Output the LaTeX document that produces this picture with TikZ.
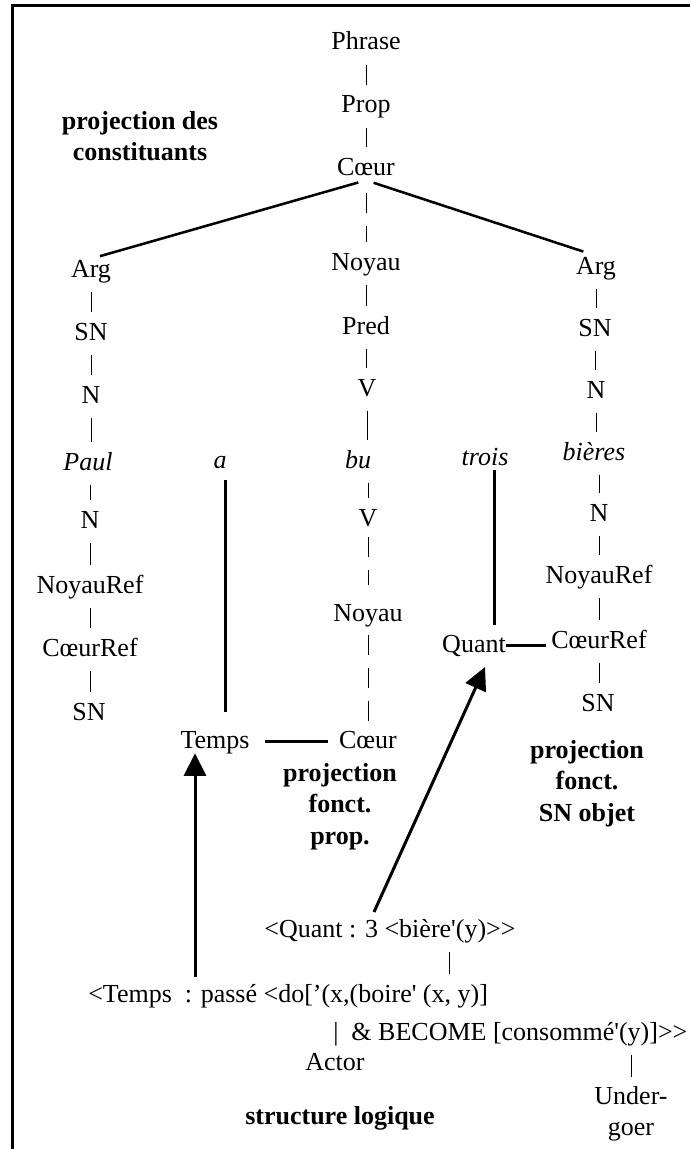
\documentclass[tikz,border=0pt]{standalone}
\usepackage{fontspec}
\setmainfont{Liberation Serif}
\usepackage{tikz}
\usetikzlibrary{arrows.meta}
\newcommand{\sq}{\XeTeXglyph\XeTeXcharglyph"0027\relax}

\begin{document}
\begin{tikzpicture}[x=0.75pt,y=0.75pt,yscale=-1,xscale=1,
    cat/.style={anchor=base,inner sep=0pt,text height=13.5pt,text depth=3.75pt,font=\fontsize{19.5}{23.6}\selectfont},
    lbl/.style={inner sep=0pt,font=\fontsize{19.5}{23.6}\selectfont},
    titre/.style={inner sep=0pt,align=center,font=\fontsize{19.5}{23.6}\selectfont\bfseries},
    trait/.style={line width=0.75pt,shorten <=7pt,shorten >=7pt},
    tiret/.style={line width=0.75pt,dash pattern=on 15pt off 9.5pt},
    branche/.style={line width=1.9pt},
    lien/.style={line width=2.25pt},
    fleche/.style={line width=2.25pt,-{Triangle[width=16.5pt,length=17pt]}}]
        \useasboundingbox (0,0) rectangle (690,1149);

        %Frame
        \draw [line width=2.25pt] (690,6) -- (12,6) -- (12,1149) ;

        % Text Node
        \node [cat] (phr) at (366,50) {Phrase};
        % Text Node
        \node [cat] (prop) at (366,113) {Prop};
        % Text Node
        \node [cat] (coeur) at (366,175) {Cœur};
        % Text Node
        \node [cat] (noy) at (366,270) {Noyau};
        % Text Node
        \node [cat] (pred) at (366,334) {Pred};
        % Text Node
        \node [cat] (v1) at (367,396) {V};
        % Text Node
        \node [cat] (bu) at (358,468) {\itshape bu};
        % Text Node
        \node [cat] (v2) at (368,526) {V};
        % Text Node
        \node [cat] (noy2) at (368,621) {Noyau};
        % Text Node
        \node [cat] (coeur2) at (368,748) {Cœur};

        % Text Node
        \node [cat] (arg1) at (91,277) {Arg};
        % Text Node
        \node [cat] (sn1) at (91,340) {SN};
        % Text Node
        \node [cat] (n1) at (91,403) {N};
        % Text Node
        \node [cat] (paul) at (88,470) {\itshape Paul};
        % Text Node
        \node [cat] (n1b) at (90,528) {N};
        % Text Node
        \node [cat] (nref1) at (90,593) {NoyauRef};
        % Text Node
        \node [cat] (cref1) at (90,656) {CœurRef};
        % Text Node
        \node [cat] (sn1b) at (89,720) {SN};

        % Text Node
        \node [cat] (arg2) at (596,274) {Arg};
        % Text Node
        \node [cat] (sn2) at (595,336) {SN};
        % Text Node
        \node [cat] (n2) at (596,398) {N};
        % Text Node
        \node [cat] (bieres) at (594,460) {\itshape bières};
        % Text Node
        \node [cat] (n2b) at (599,521) {N};
        % Text Node
        \node [cat] (nref2) at (599,583) {NoyauRef};
        % Text Node
        \node [cat] (cref2) at (599,648) {CœurRef};
        % Text Node
        \node [cat] (sn2b) at (598,711) {SN};

        % Text Node
        \node [cat] (a) at (220,468) {\itshape a};
        % Text Node
        \node [cat] (trois) at (485,465) {\itshape trois};
        % Text Node
        \node [cat] (quant) at (474,652) {Quant};
        % Text Node
        \node [cat] (temps) at (215,748) {Temps};

        % Text Node
        \node [titre,anchor=north] (pdc) at (140,111) {projection des\\constituants};
        % Text Node
        \node [titre,anchor=north] (pfp) at (340,763) {projection\\fonct.\\prop.};
        % Text Node
        \node [titre,anchor=north] (pfs) at (587,740) {projection\\fonct.\\SN objet};
        % Text Node
        \node [titre,anchor=base] (slog) at (340,1124) {structure logique};

        % Text Node
        \node [lbl,anchor=base] (lq) at (390,937) {<Quant : 3 <bière\sq(y)>{}>};
        % Text Node
        \node [lbl,anchor=base west] (lt) at (88,1002) {<Temps\ \ : passé <do[’(x,(boire\sq{} (x, y)]};
        % Text Node
        \node [lbl,anchor=base west] (lb) at (333,1040) {|\ \ \& BECOME [consommé\sq(y)]>{}>};
        % Text Node
        \node [lbl,anchor=base] (actor) at (335,1070) {Actor};
        % Text Node
        \node [lbl,anchor=north,align=center] (ug) at (631,1086) {Under-\\goer};
        \coordinate (ybar) at (449,0);

        %Straight Lines
        \draw [trait] (phr.south) -- (phr.south |- prop.north) ;
        \draw [trait] (prop.south) -- (prop.south |- coeur.north) ;
        \draw [tiret,shorten <=9.75pt,shorten >=7.5pt] (coeur.south) -- (coeur.south |- noy.north) ;
        \draw [trait] (noy.south) -- (noy.south |- pred.north) ;
        \draw [trait] (pred.south) -- (pred.south |- v1.north) ;
        \draw [trait] (v1.south) -- (v1.south |- bu.north) ;
        \draw [trait] (v2.north |- bu.south) -- (v2.north) ;
        \draw [tiret,shorten <=4.5pt,shorten >=13.5pt] (v2.south) -- (v2.south |- noy2.north) ;
        \draw [tiret,shorten <=6.75pt,shorten >=5.25pt] (noy2.south) -- (noy2.south |- coeur2.north) ;

        %Straight Lines
        \draw [trait] (arg1.south) -- (arg1.south |- sn1.north) ;
        \draw [trait] (sn1.south) -- (sn1.south |- n1.north) ;
        \draw [trait] (n1.south) -- (n1.south |- paul.north) ;
        \draw [trait] (n1b.north |- paul.south) -- (n1b.north) ;
        \draw [trait] (n1b.south) -- (n1b.south |- nref1.north) ;
        \draw [trait] (nref1.south) -- (nref1.south |- cref1.north) ;
        \draw [trait] (cref1.south) -- (cref1.south |- sn1b.north) ;

        %Straight Lines
        \draw [trait] (arg2.south) -- (arg2.south |- sn2.north) ;
        \draw [trait] (sn2.south) -- (sn2.south |- n2.north) ;
        \draw [trait] (n2.south) -- (n2.south |- bieres.north) ;
        \draw [trait] (n2b.north |- bieres.south) -- (n2b.north) ;
        \draw [trait] (n2b.south) -- (n2b.south |- nref2.north) ;
        \draw [trait] (nref2.south) -- (nref2.south |- cref2.north) ;
        \draw [trait] (cref2.south) -- (cref2.south |- sn2b.north) ;

        %Straight Lines
        \draw [branche,shorten <=6pt,shorten >=7pt] (coeur.south) -- (arg1.north) ;
        \draw [branche,shorten <=6pt,shorten >=10pt] (coeur.south) -- (arg2.north) ;
        \draw [lien,shorten <=5pt,shorten >=13.5pt] ([xshift=3.75pt]a.south) -- ([xshift=3.75pt]a.south |- temps.north) ;
        \draw [lien,shorten >=6.75pt] ([xshift=6.75pt]trois.south) -- ([xshift=6.75pt]trois.south |- quant.north) ;
        \draw [branche,shorten <=11.5pt,shorten >=8.25pt] (temps.east) -- (coeur2.west) ;
        \draw [branche,shorten >=3.75pt] (quant.east) -- (quant.east -| cref2.west) ;

        %Straight Lines
        \draw [trait] (lq.south -| ybar) -- (lt.north -| ybar) ;
        \draw [trait] (lb.south -| ug.north) -- (ug.north) ;

        %Arrows
        \coordinate (tq) at (195,977);
        \draw [fleche] (tq) -- (tq |- temps.south) ;
        \coordinate (qq) at (374,912);
        \coordinate (qtip) at (485,667);
        \draw [fleche] (qq) -- (qtip) ;

\end{tikzpicture}
\end{document}
